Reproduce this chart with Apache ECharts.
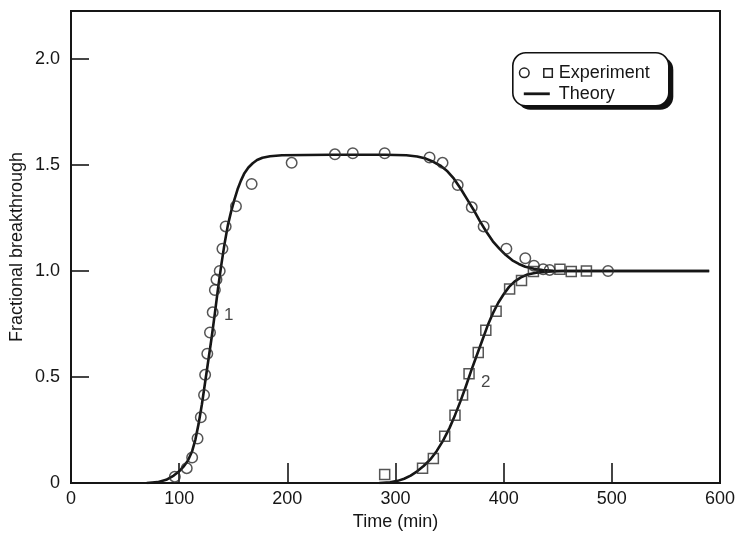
<!DOCTYPE html>
<html>
<head>
<meta charset="utf-8">
<script src="https://cdn.jsdelivr.net/npm/echarts@6/dist/echarts.min.js"></script>
<style>html,body{margin:0;padding:0;background:#fff;}#c{width:738px;height:534px;}</style>
</head>
<body>
<div id="c"></div>
<script>
// ---- data ----
var xTicks = [0, 100, 200, 300, 400, 500, 600];
var yTicks = ['0', '0.5', '1.0', '1.5', '2.0'];

// experiment, curve 1 (circles): [time, fractional breakthrough]
var expCircles = [
  [96, 0.03], [107, 0.07], [112, 0.12], [117, 0.21], [120, 0.31], [123, 0.415],
  [124, 0.51], [126, 0.61], [128.5, 0.71], [131, 0.805], [133, 0.91], [134.5, 0.96],
  [137.5, 1.0], [140, 1.105], [143, 1.21], [152.5, 1.305], [167, 1.41],
  [204, 1.51], [244, 1.55], [260.5, 1.555], [290, 1.555], [331.5, 1.535],
  [343.5, 1.51], [357.5, 1.405], [370.5, 1.30], [381.5, 1.21], [402.5, 1.105],
  [420, 1.06], [428, 1.025], [436.5, 1.008], [442.5, 1.005], [496.5, 1.0]
];

// experiment, curve 2 (squares)
var expSquares = [
  [290, 0.04], [325, 0.07], [335, 0.115], [345.5, 0.22], [355, 0.32], [362, 0.415],
  [368, 0.515], [376.5, 0.615], [383.5, 0.72], [393, 0.81], [405.5, 0.915],
  [416.5, 0.955], [427.5, 0.997], [452, 1.008], [462.5, 0.997], [476.5, 1.0]
];

// theory, curve 1
var theory1 = [
  [70, 0], [80, 0.004], [88, 0.015], [95, 0.035], [100, 0.055], [104, 0.077],
  [108, 0.105], [112, 0.15], [115, 0.205], [118, 0.28], [121, 0.37], [124, 0.475],
  [127, 0.58], [130, 0.685], [133, 0.8], [136, 0.92], [139, 1.03], [142, 1.13],
  [145, 1.215], [148, 1.28], [151, 1.335], [154, 1.385], [157, 1.425], [160, 1.458],
  [164, 1.488], [168, 1.508], [172, 1.523], [177, 1.534], [184, 1.541], [195, 1.546],
  [240, 1.548], [290, 1.548], [310, 1.546], [320, 1.54], [328, 1.53], [335, 1.515],
  [342, 1.495], [348, 1.47], [354, 1.435], [360, 1.39], [366, 1.34], [372, 1.29],
  [378, 1.235], [384, 1.185], [390, 1.14], [396, 1.105], [402, 1.075], [408, 1.05],
  [414, 1.033], [420, 1.02], [428, 1.01], [436, 1.004], [446, 1.001], [460, 1.0],
  [590, 1.0]
];

// theory, curve 2
var theory2 = [
  [285, 0], [295, 0.003], [302, 0.01], [308, 0.02], [314, 0.035], [320, 0.055],
  [326, 0.08], [332, 0.11], [338, 0.15], [344, 0.2], [350, 0.26], [355, 0.32],
  [360, 0.385], [365, 0.455], [370, 0.53], [375, 0.6], [380, 0.67], [385, 0.74],
  [390, 0.8], [395, 0.85], [400, 0.89], [405, 0.925], [410, 0.95], [416, 0.97],
  [422, 0.983], [430, 0.992], [440, 0.997], [455, 1.0], [590, 1.0]
];

// curve number labels
var curveLabels = [[141.5, 0.79, '1'], [379, 0.473, '2']];

// ---- chart ----
var FONT = '"Liberation Sans", Arial, Helvetica, sans-serif';
var INK = '#161616';
var chart = echarts.init(document.getElementById('c'), null, {renderer: 'canvas'});

var option = {
  backgroundColor: '#ffffff',
  animation: false,
  grid: {
    left: 71, right: 18, top: 11, bottom: 51,
    containLabel: false, outerBoundsMode: 'none',
    show: true, borderColor: INK, borderWidth: 2, backgroundColor: 'transparent'
  },
  xAxis: {
    type: 'value', min: 0, max: 600, interval: 100,
    name: 'Time (min)', nameLocation: 'middle', nameGap: 28,
    nameTextStyle: {fontFamily: FONT, fontSize: 18, color: INK},
    axisLine: {show: true, lineStyle: {color: INK, width: 2}},
    axisTick: {show: true, inside: true, length: 20, lineStyle: {color: INK, width: 1.6}},
    axisLabel: {
      fontFamily: FONT, fontSize: 18, color: INK, margin: 7,
      formatter: function (v) { return xTicks.indexOf(v) >= 0 ? String(v) : ''; }
    },
    splitLine: {show: false}
  },
  yAxis: {
    type: 'value', min: 0, max: 2.226, interval: 0.5,
    name: 'Fractional breakthrough', nameLocation: 'middle', nameGap: 45,
    nameMoveOverlap: false,
    nameTextStyle: {fontFamily: FONT, fontSize: 18, color: INK},
    axisLine: {show: true, lineStyle: {color: INK, width: 2}},
    axisTick: {show: true, inside: true, length: 18, lineStyle: {color: INK, width: 1.6}},
    axisLabel: {
      fontFamily: FONT, fontSize: 18, color: INK, margin: 11,
      showMaxLabel: false,
      formatter: function (v) {
        var i = Math.round(v / 0.5);
        return (Math.abs(v - i * 0.5) < 1e-6 && yTicks[i] !== undefined) ? yTicks[i] : '';
      }
    },
    splitLine: {show: false}
  },
  series: [
    {
      name: 'Theory 1', type: 'line', data: theory1, smooth: false, showSymbol: false,
      lineStyle: {color: INK, width: 2.6, join: 'round'}, z: 3
    },
    {
      name: 'Theory 2', type: 'line', data: theory2, smooth: false, showSymbol: false,
      lineStyle: {color: INK, width: 2.6, join: 'round'}, z: 3
    },
    {
      name: 'Experiment 1', type: 'scatter', data: expCircles, symbol: 'circle', symbolSize: 10.5,
      itemStyle: {color: 'rgba(255,255,255,0)', borderColor: '#2a2a2a', borderWidth: 1.5}, z: 4
    },
    {
      name: 'Experiment 2', type: 'scatter', data: expSquares, symbol: 'rect', symbolSize: 10,
      itemStyle: {color: 'rgba(255,255,255,0)', borderColor: '#2a2a2a', borderWidth: 1.5}, z: 4
    },
    {
      name: 'labels', type: 'scatter', symbolSize: 0, silent: true,
      data: curveLabels.map(function (d) { return {value: [d[0], d[1]], name: d[2]}; }),
      label: {
        show: true, position: 'right', distance: 0,
        formatter: function (p) { return p.name; },
        fontFamily: FONT, fontSize: 17, color: INK
      }, z: 5
    }
  ],
  graphic: [
    {
      type: 'group', left: 512, top: 52,
      children: [
        {type: 'rect', shape: {x: 4.5, y: 4, width: 156, height: 53, r: 13}, style: {fill: '#111'}},
        {type: 'rect', shape: {x: 0, y: 0, width: 156, height: 53, r: 13},
          style: {fill: '#fff', stroke: '#111', lineWidth: 1.6}},
        {type: 'circle', shape: {cx: 11.5, cy: 20, r: 4.8}, style: {fill: 'none', stroke: '#222', lineWidth: 1.5}},
        {type: 'rect', shape: {x: 31, y: 16, width: 8.5, height: 8.5}, style: {fill: 'none', stroke: '#222', lineWidth: 1.5}},
        {type: 'text', x: 46, y: 20, style: {text: 'Experiment', fontFamily: FONT, fontSize: 18, fill: INK, verticalAlign: 'middle'}},
        {type: 'line', shape: {x1: 11, y1: 41, x2: 37, y2: 41}, style: {stroke: INK, lineWidth: 2.8}},
        {type: 'text', x: 46, y: 41, style: {text: 'Theory', fontFamily: FONT, fontSize: 18, fill: INK, verticalAlign: 'middle'}}
      ]
    }
  ]
};
chart.setOption(option);
</script>
</body>
</html>
